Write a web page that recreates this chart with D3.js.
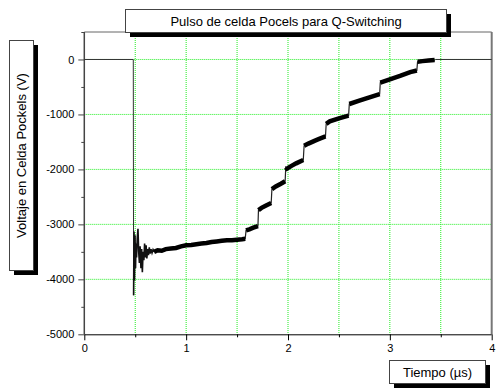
<!DOCTYPE html>
<html>
<head>
<meta charset="utf-8">
<script src="https://cdnjs.cloudflare.com/ajax/libs/d3/7.8.5/d3.min.js"></script>
<style>
    body { margin: 0; background: #fff; }
    svg { display: block; font-family: "Liberation Sans", Arial, sans-serif; }
</style>
</head>
<body>
<div id="chart-area"></div>
<script>
// Pulso de celda Pockels - Q-Switching

var xTicks = [0, 1, 2, 3, 4];
var yTicks = [-5000, -4000, -3000, -2000, -1000, 0];
var xGrid = [0.5, 1, 1.5, 2, 2.5, 3, 3.5];
var yGrid = [-4000, -3000, -2000, -1000, 0];

// Trace before the pulse (µs, V)
var preT = [0, 0.481, 0.484];
var preV = [0, 0, -4290];

// Ringing right after the switch
var ringT = [0.484, 0.488, 0.493, 0.498, 0.503, 0.508, 0.513, 0.520, 0.527, 0.534, 0.541, 0.548, 0.556, 0.563, 0.570, 0.577, 0.585, 0.592, 0.600, 0.607, 0.614, 0.622, 0.630, 0.638, 0.646, 0.655, 0.665, 0.675, 0.685];
var ringV = [-4290, -3130, -4020, -3200, -3800, -3350, -3600, -3250, -3080, -3500, -3700, -3400, -3800, -3450, -3870, -3500, -3650, -3350, -3600, -3380, -3620, -3450, -3560, -3420, -3530, -3450, -3520, -3460, -3500];

// Noisy staircase, one list per step
var stepT = [
    [0.685, 0.72, 0.76, 0.80, 0.85, 0.90, 0.95, 1.00, 1.05, 1.10, 1.15, 1.20, 1.25, 1.30, 1.35, 1.40, 1.45, 1.50, 1.55, 1.58],
    [1.588, 1.62, 1.66, 1.705],
    [1.71, 1.74, 1.78, 1.835],
    [1.842, 1.88, 1.93, 1.972],
    [1.978, 1.99, 2.03, 2.08, 2.15],
    [2.158, 2.20, 2.26, 2.30, 2.368],
    [2.375, 2.41, 2.50, 2.595],
    [2.602, 2.70, 2.80, 2.90],
    [2.906, 3.00, 3.10, 3.20, 3.265],
    [3.272, 3.32, 3.38, 3.44]
];
var stepV = [
    [-3500, -3470, -3480, -3450, -3440, -3430, -3400, -3380, -3375, -3360, -3350, -3340, -3320, -3310, -3300, -3290, -3290, -3280, -3270, -3260],
    [-3110, -3090, -3060, -3030],
    [-2740, -2700, -2660, -2610],
    [-2360, -2310, -2260, -2215],
    [-1960, -1985, -1940, -1890, -1830],
    [-1570, -1530, -1480, -1450, -1400],
    [-1170, -1125, -1070, -1020],
    [-810, -750, -690, -630],
    [-420, -360, -300, -230, -200],
    [-40, -30, -20, -10]
];

// Back to zero after the pulse
var postT = [3.44, 3.45, 4];
var postV = [-10, 0, 0];

var width = 496, height = 390;
var plot = { left: 84.3, right: 491.7, top: 32, bottom: 334.3 };

var svg = d3.select("#chart-area").append("svg")
    .attr("width", width)
    .attr("height", height);

// Scales
var x = d3.scaleLinear().domain([0, 4]).range([plot.left, plot.right]);
var y = d3.scaleLinear().domain([-5000, 500]).range([plot.bottom, plot.top]);

// Grid
svg.append("g").selectAll("line").data(xGrid).enter().append("line")
    .attr("x1", function(d) { return x(d); })
    .attr("x2", function(d) { return x(d); })
    .attr("y1", plot.top)
    .attr("y2", plot.bottom)
    .attr("stroke", "#22ee22")
    .attr("stroke-dasharray", "1,1");
svg.append("g").selectAll("line").data(yGrid).enter().append("line")
    .attr("x1", plot.left)
    .attr("x2", plot.right)
    .attr("y1", function(d) { return y(d); })
    .attr("y2", function(d) { return y(d); })
    .attr("stroke", "#22ee22")
    .attr("stroke-dasharray", "1,1");

// Frame top / right
svg.append("line")
    .attr("x1", plot.left).attr("x2", plot.right)
    .attr("y1", plot.top).attr("y2", plot.top)
    .attr("stroke", "#666");
svg.append("line")
    .attr("x1", plot.right).attr("x2", plot.right)
    .attr("y1", plot.top).attr("y2", plot.bottom)
    .attr("stroke", "#777")
    .attr("stroke-width", 2);

// Axes
var xAxisCall = d3.axisBottom(x)
    .tickValues(d3.range(0, 4.01, 0.5))
    .tickSize(6)
    .tickFormat(function(d) { return xTicks.indexOf(d) >= 0 ? d : ""; });
var yAxisCall = d3.axisLeft(y)
    .tickValues(d3.range(-5000, 501, 500))
    .tickSize(6)
    .tickFormat(function(d) { return yTicks.indexOf(d) >= 0 ? d : ""; });

var xAxis = svg.append("g")
    .attr("transform", "translate(0," + plot.bottom + ")")
    .call(xAxisCall);
var yAxis = svg.append("g")
    .attr("transform", "translate(" + plot.left + ",0)")
    .call(yAxisCall);

xAxis.select(".domain").attr("d", "M" + plot.left + ",0.5H" + plot.right).attr("stroke", "#000");
yAxis.select(".domain").attr("d", "M0," + plot.top + "V" + plot.bottom).attr("stroke", "#444").attr("stroke-width", 1.5);
xAxis.selectAll(".tick line")
    .attr("y2", function(d) { return xTicks.indexOf(d) >= 0 ? 6 : 3; });
yAxis.selectAll(".tick line")
    .attr("x2", function(d) { return yTicks.indexOf(d) >= 0 ? -6 : -3; })
    .attr("stroke", "#444");
xAxis.selectAll("text")
    .attr("font-size", "11px")
    .attr("font-family", "Liberation Sans, Arial, sans-serif")
    .attr("fill", "#000")
    .attr("y", 10);
yAxis.selectAll("text")
    .attr("font-size", "11px")
    .attr("font-family", "Liberation Sans, Arial, sans-serif")
    .attr("fill", "#000")
    .attr("x", -10);

// Trace
var line = d3.line()
    .x(function(d) { return x(d[0]); })
    .y(function(d) { return y(d[1]); });
function pairs(ts, vs) {
    return ts.map(function(t, i) { return [t, vs[i]]; });
}

svg.append("path")
    .attr("d", line(pairs(preT, preV)))
    .attr("fill", "none")
    .attr("stroke", "#333")
    .attr("stroke-width", 1);
svg.append("path")
    .attr("d", line(pairs(postT, postV)))
    .attr("fill", "none")
    .attr("stroke", "#333")
    .attr("stroke-width", 1);
svg.append("path")
    .attr("d", line(pairs(ringT, ringV)))
    .attr("fill", "none")
    .attr("stroke", "#111")
    .attr("stroke-width", 1.6);

// thin connecting line through all steps
var allSteps = [];
stepT.forEach(function(ts, i) { allSteps = allSteps.concat(pairs(ts, stepV[i])); });
svg.append("path")
    .attr("d", line(allSteps))
    .attr("fill", "none")
    .attr("stroke", "#222")
    .attr("stroke-width", 1.2);
// thick noisy band per step
stepT.forEach(function(ts, i) {
    svg.append("path")
        .attr("d", line(pairs(ts, stepV[i])))
        .attr("fill", "none")
        .attr("stroke", "#000")
        .attr("stroke-width", 4.5)
        .attr("stroke-linecap", "butt");
});

// Label boxes with drop shadow
function labelBox(bx, by, bw, bh, label, rotate) {
    var g = svg.append("g");
    g.append("rect")
        .attr("x", bx + 4.5).attr("y", by + 4.5)
        .attr("width", bw).attr("height", bh)
        .attr("fill", "#000");
    g.append("rect")
        .attr("x", bx).attr("y", by)
        .attr("width", bw).attr("height", bh)
        .attr("fill", "#fff")
        .attr("stroke", "#444");
    var cx = bx + bw / 2, cy = by + bh / 2;
    g.append("text")
        .attr("transform", "translate(" + cx + "," + cy + ")" + (rotate ? " rotate(-90)" : ""))
        .attr("text-anchor", "middle")
        .attr("dy", "0.36em")
        .attr("font-size", "13px")
        .attr("fill", "#000")
        .text(label);
}

labelBox(125.5, 9.5, 321, 23, "Pulso de celda Pocels para Q-Switching", false);
labelBox(9.5, 40.5, 24, 230, "Voltaje en Celda Pockels (V)", true);
labelBox(389.5, 360.5, 96, 23, "Tiempo (µs)", false);
</script>
</body>
</html>
